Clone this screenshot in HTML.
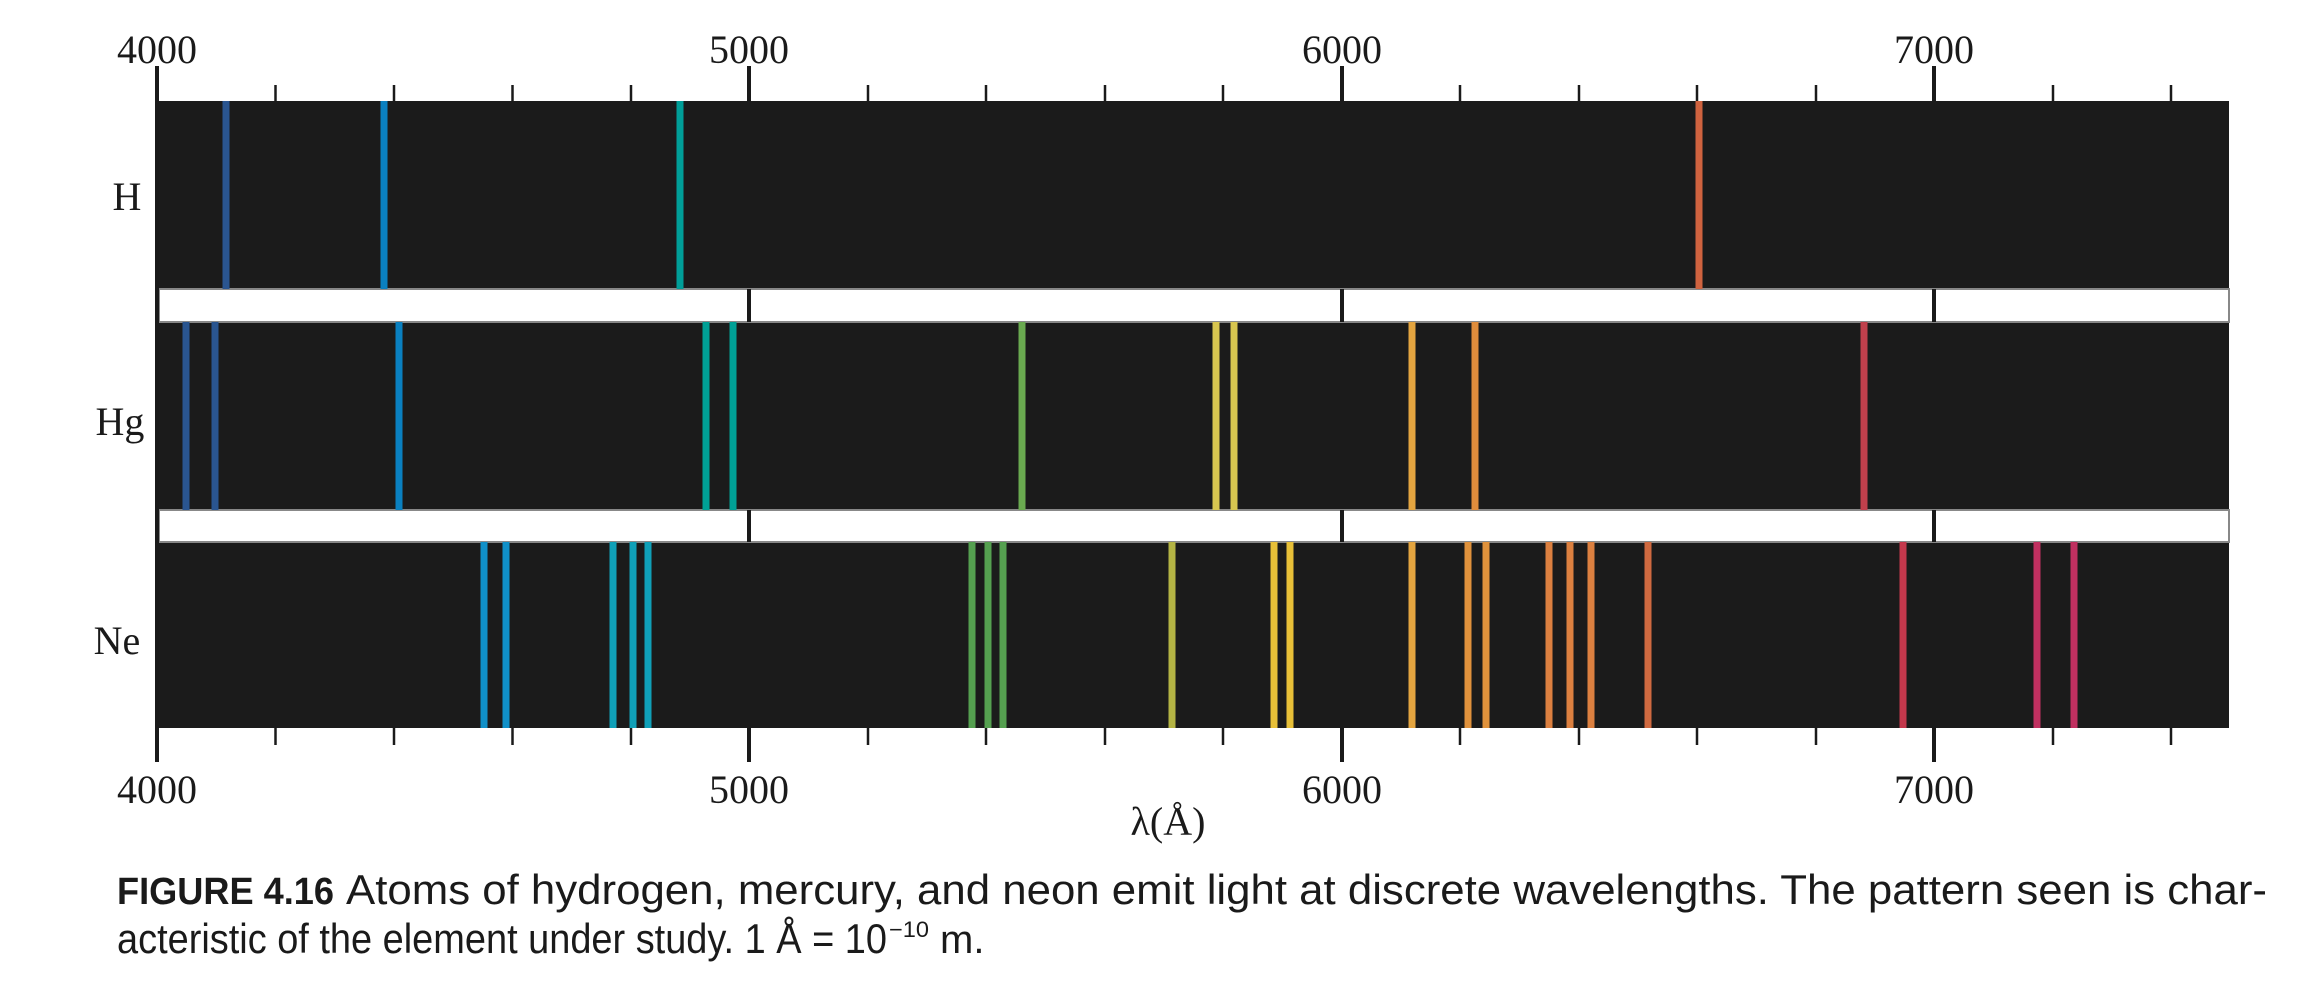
<!DOCTYPE html>
<html><head><meta charset="utf-8"><style>
html,body{margin:0;padding:0;background:#fff;}
svg{display:block;}
</style></head><body>
<svg width="2298" height="1004" viewBox="0 0 2298 1004" xmlns="http://www.w3.org/2000/svg">
<rect width="2298" height="1004" fill="#fff"/>
<g font-family="Liberation Serif, serif" font-size="40" fill="#1a1a1a" text-anchor="middle">
<text x="157" y="63">4000</text><text x="749" y="63">5000</text><text x="1342" y="63">6000</text><text x="1934" y="63">7000</text>
<text x="157" y="803">4000</text><text x="749" y="803">5000</text><text x="1342" y="803">6000</text><text x="1934" y="803">7000</text>
<text x="1168" y="835">λ(Å)</text>
<text x="127" y="210">H</text><text x="120" y="435">Hg</text><text x="117" y="654">Ne</text>
</g>
<rect x="157" y="101" width="2072" height="188" fill="#1b1b1b"/>
<rect x="157" y="322" width="2072" height="188" fill="#1b1b1b"/>
<rect x="157" y="542" width="2072" height="186" fill="#1b1b1b"/>
<g fill="#fff" stroke="#888" stroke-width="2">
<rect x="159" y="289" width="2070" height="33"/>
<rect x="159" y="510" width="2070" height="32"/>
</g>
<g stroke-width="7">
<g stroke="#2a5590"><line x1="226" y1="101" x2="226" y2="289"/><line x1="186" y1="322" x2="186" y2="510"/><line x1="215" y1="322" x2="215" y2="510"/></g>
<line x1="384" y1="101" x2="384" y2="289" stroke="#0a80c0"/>
<line x1="680" y1="101" x2="680" y2="289" stroke="#009e98"/>
<line x1="1699" y1="101" x2="1699" y2="289" stroke="#d0633f"/>
<line x1="399" y1="322" x2="399" y2="510" stroke="#0a80c0"/>
<g stroke="#00a096"><line x1="706" y1="322" x2="706" y2="510"/><line x1="733" y1="322" x2="733" y2="510"/></g>
<line x1="1022" y1="322" x2="1022" y2="510" stroke="#6aaa50"/>
<g stroke="#d8c650"><line x1="1216" y1="322" x2="1216" y2="510"/><line x1="1234" y1="322" x2="1234" y2="510"/></g>
<line x1="1412" y1="322" x2="1412" y2="510" stroke="#e4a540"/>
<line x1="1475" y1="322" x2="1475" y2="510" stroke="#e08d3c"/>
<line x1="1864" y1="322" x2="1864" y2="510" stroke="#c0404c"/>
<g stroke="#1090c8"><line x1="484" y1="542" x2="484" y2="728"/><line x1="506" y1="542" x2="506" y2="728"/></g>
<g stroke="#10a0b8"><line x1="613" y1="542" x2="613" y2="728"/><line x1="633" y1="542" x2="633" y2="728"/><line x1="648" y1="542" x2="648" y2="728"/></g>
<g stroke="#55a050"><line x1="972" y1="542" x2="972" y2="728"/><line x1="988" y1="542" x2="988" y2="728"/><line x1="1003" y1="542" x2="1003" y2="728"/></g>
<line x1="1172" y1="542" x2="1172" y2="728" stroke="#b4b444"/>
<g stroke="#e8c038"><line x1="1274" y1="542" x2="1274" y2="728"/><line x1="1290" y1="542" x2="1290" y2="728"/></g>
<line x1="1412" y1="542" x2="1412" y2="728" stroke="#e4a540"/>
<g stroke="#e0923c"><line x1="1468" y1="542" x2="1468" y2="728"/><line x1="1486" y1="542" x2="1486" y2="728"/></g>
<g stroke="#dc8040"><line x1="1549" y1="542" x2="1549" y2="728"/><line x1="1570" y1="542" x2="1570" y2="728"/><line x1="1591" y1="542" x2="1591" y2="728"/></g>
<line x1="1648" y1="542" x2="1648" y2="728" stroke="#d06a40"/>
<line x1="1903" y1="542" x2="1903" y2="728" stroke="#c4384c"/>
<g stroke="#c03060"><line x1="2037" y1="542" x2="2037" y2="728"/><line x1="2074" y1="542" x2="2074" y2="728"/></g>
</g>
<g stroke="#1a1a1a">
<line x1="157" y1="66" x2="157" y2="762" stroke-width="4"/>
<line x1="749" y1="66" x2="749" y2="101" stroke-width="4"/><line x1="1342" y1="66" x2="1342" y2="101" stroke-width="4"/><line x1="1934" y1="66" x2="1934" y2="101" stroke-width="4"/>
<line x1="749" y1="728" x2="749" y2="762" stroke-width="4"/><line x1="1342" y1="728" x2="1342" y2="762" stroke-width="4"/><line x1="1934" y1="728" x2="1934" y2="762" stroke-width="4"/>
<g stroke-width="4"><line x1="749" y1="289" x2="749" y2="322"/><line x1="1342" y1="289" x2="1342" y2="322"/><line x1="1934" y1="289" x2="1934" y2="322"/>
<line x1="749" y1="510" x2="749" y2="542"/><line x1="1342" y1="510" x2="1342" y2="542"/><line x1="1934" y1="510" x2="1934" y2="542"/></g>
<g stroke-width="2.5">
<line x1="275.5" y1="85" x2="275.5" y2="101"/><line x1="394" y1="85" x2="394" y2="101"/><line x1="512.5" y1="85" x2="512.5" y2="101"/><line x1="631" y1="85" x2="631" y2="101"/>
<line x1="868" y1="85" x2="868" y2="101"/><line x1="986" y1="85" x2="986" y2="101"/><line x1="1105" y1="85" x2="1105" y2="101"/><line x1="1223" y1="85" x2="1223" y2="101"/>
<line x1="1460" y1="85" x2="1460" y2="101"/><line x1="1579" y1="85" x2="1579" y2="101"/><line x1="1697" y1="85" x2="1697" y2="101"/><line x1="1816" y1="85" x2="1816" y2="101"/>
<line x1="2053" y1="85" x2="2053" y2="101"/><line x1="2171" y1="85" x2="2171" y2="101"/>
<line x1="275.5" y1="728" x2="275.5" y2="745"/><line x1="394" y1="728" x2="394" y2="745"/><line x1="512.5" y1="728" x2="512.5" y2="745"/><line x1="631" y1="728" x2="631" y2="745"/>
<line x1="868" y1="728" x2="868" y2="745"/><line x1="986" y1="728" x2="986" y2="745"/><line x1="1105" y1="728" x2="1105" y2="745"/><line x1="1223" y1="728" x2="1223" y2="745"/>
<line x1="1460" y1="728" x2="1460" y2="745"/><line x1="1579" y1="728" x2="1579" y2="745"/><line x1="1697" y1="728" x2="1697" y2="745"/><line x1="1816" y1="728" x2="1816" y2="745"/>
<line x1="2053" y1="728" x2="2053" y2="745"/><line x1="2171" y1="728" x2="2171" y2="745"/>
</g>
</g>
<g font-family="Liberation Sans, sans-serif" font-size="42" fill="#1a1a1a">
<text x="117" y="904" font-size="38" font-weight="bold" textLength="217" lengthAdjust="spacingAndGlyphs">FIGURE 4.16</text>
<text x="346" y="904" textLength="1921" lengthAdjust="spacingAndGlyphs">Atoms of hydrogen, mercury, and neon emit light at discrete wavelengths. The pattern seen is char-</text>
<text x="117" y="953" textLength="770" lengthAdjust="spacingAndGlyphs">acteristic of the element under study. 1 Å = 10</text>
<text x="889" y="937" font-size="22" textLength="40" lengthAdjust="spacingAndGlyphs">−10</text>
<text x="940" y="953" font-size="40">m.</text>
</g>
</svg>
</body></html>
